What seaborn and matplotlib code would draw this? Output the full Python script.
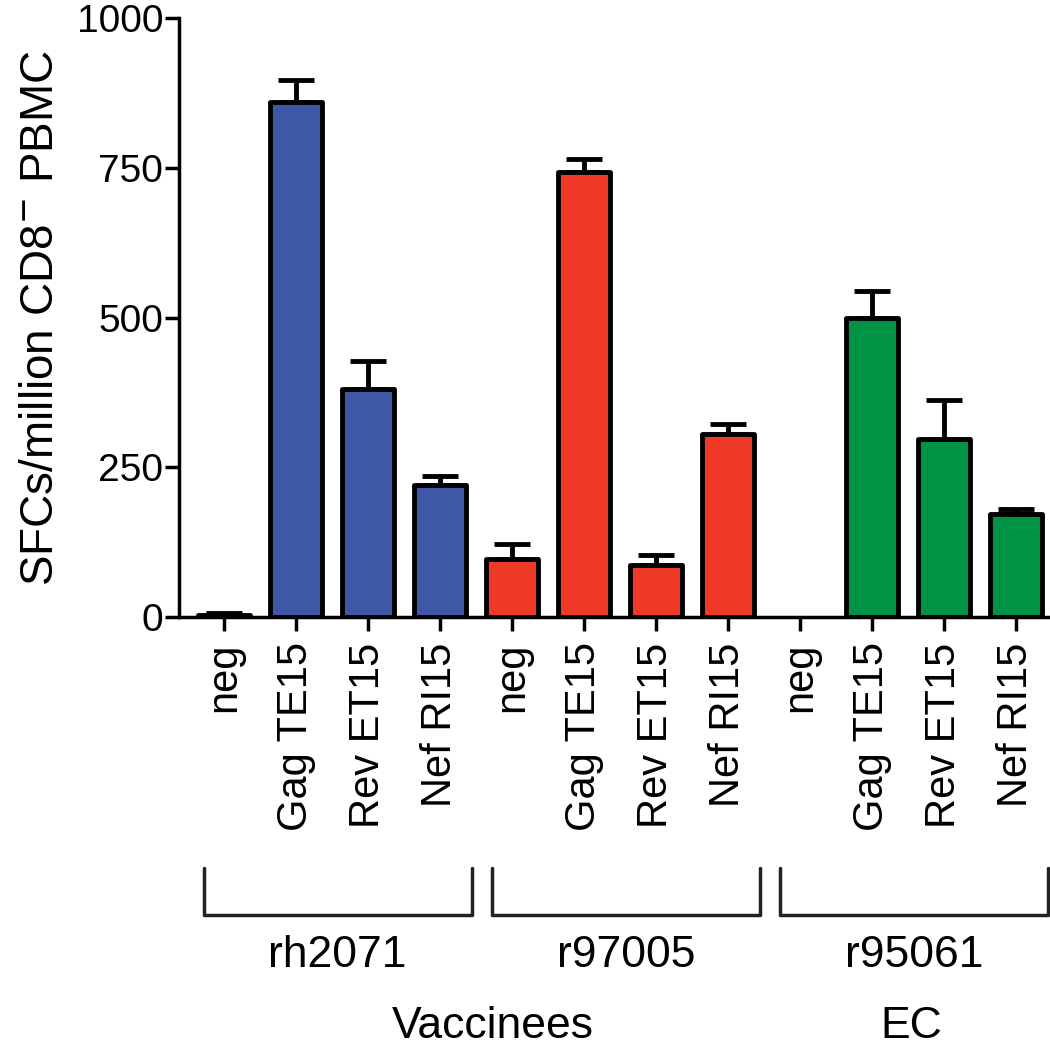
import numpy as np
import pandas as pd
import matplotlib.pyplot as plt
import seaborn as sns
from matplotlib.lines import Line2D
from matplotlib.transforms import blended_transform_factory

# Dữ liệu
animals = ['rh2071', 'r97005', 'r95061']
peptides = ['neg', 'Gag TE15', 'Rev ET15', 'Nef RI15']
means = [3, 860, 380, 220,
         97, 743, 88, 305,
         np.nan, 500, 298, 172]
errs = [4, 37, 47, 15,
        25, 22, 16, 17,
        0, 44, 65, 8]
colors = ['#3F58A6', '#EE3A26', '#009245']
cohorts = ['Vaccinees', 'EC']

sns.set_theme(style='ticks')
plt.rcParams['font.family'] = ['Liberation Sans', 'DejaVu Sans']
plt.rcParams.update({'text.color': 'black', 'axes.labelcolor': 'black',
                     'xtick.color': 'black', 'ytick.color': 'black',
                     'axes.edgecolor': 'black'})

rows = []
for i, a in enumerate(animals):
    for j, p in enumerate(peptides):
        rows.append({'key': f'{a} {p}', 'animal': a, 'peptide': p,
                     'value': means[i * 4 + j], 'err': errs[i * 4 + j]})
df = pd.DataFrame(rows)

fig = plt.figure(figsize=(10.5, 10.48), dpi=100)
ax = fig.add_axes([0.17, 0.411, 0.83, 0.572])

sns.barplot(data=df, x='key', y='value', hue='animal', order=df['key'],
            palette=colors, saturation=1, dodge=False, width=0.72,
            edgecolor='black', linewidth=3.5, legend=False, ax=ax, zorder=3)
for p in ax.patches:
    p.set_joinstyle('round')

# chỉ vẽ nửa trên của error bar
x = range(len(df))
_, caps, bars = ax.errorbar(x, df['value'], yerr=[[0] * len(df), df['err']], fmt='none',
                            ecolor='black', elinewidth=3.5, capsize=13, capthick=3.5, zorder=2)
for c in caps:
    c.set_solid_capstyle('round')

ax.set_ylim(0, 1000)
ax.set_xlim(-0.63, 11.47)
ax.set_yticks([0, 250, 500, 750, 1000])
ax.set_xticks(list(x))
ax.set_xticklabels(df['peptide'], rotation=90, fontsize=30)
ax.tick_params(axis='y', labelsize=28, width=2.5, length=10, pad=1)
ax.tick_params(axis='x', width=2.5, length=10, pad=8)
ax.set_xlabel('')
ax.set_ylabel('SFCs/million CD8$^{-}$ PBMC', fontsize=33, labelpad=10)
for s in ['top', 'right']:
    ax.spines[s].set_visible(False)
for s in ['left', 'bottom']:
    ax.spines[s].set_linewidth(2.5)

# ngoặc nhóm bên dưới
tr = blended_transform_factory(ax.transData, fig.transFigure)
y_top, y_bot = 0.172, 0.127
for i, a in enumerate(animals):
    x0, x1 = i * 4 - 0.28, i * 4 + 3.44
    ln = Line2D([x0, x0, x1, x1], [y_top, y_bot, y_bot, y_top], transform=tr,
                color='#222222', lw=2.5, clip_on=False)
    fig.add_artist(ln)
    fig.text((x0 + x1) / 2, 0.077, a, transform=tr, ha='center', va='baseline',
             fontsize=32)

fig.text(3.73, 0.01, cohorts[0], transform=tr, ha='center', va='baseline', fontsize=32)
fig.text(9.55, 0.01, cohorts[1], transform=tr, ha='center', va='baseline', fontsize=32)

fig.savefig('out.png', dpi=100)
